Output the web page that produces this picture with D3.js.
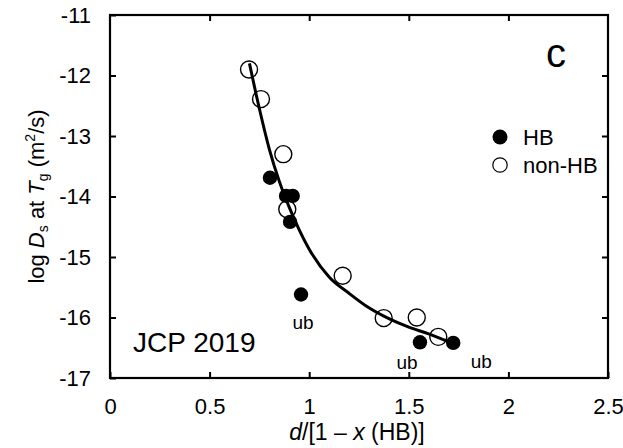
<!DOCTYPE html>
<html>
<head>
<meta charset="utf-8">
<script src="https://cdn.jsdelivr.net/npm/d3@7"></script>
<style>
  html, body { margin: 0; padding: 0; background: #fff; }
  svg { display: block; font-family: "Liberation Sans", Arial, sans-serif; }
  .axis path { display: none; }
  .axis line { stroke: #000; stroke-width: 2; }
  .axis text { font-size: 22px; fill: #000; }
</style>
</head>
<body>
<svg id="chart" width="623" height="448"></svg>
<script>
// data
var hb_x = [0.803, 0.884, 0.917, 0.904, 0.959, 1.556, 1.723];
var hb_y = [-13.69, -13.99, -13.99, -14.42, -15.62, -16.41, -16.42];

var nonhb_x = [0.698, 0.758, 0.870, 0.890, 1.168, 1.374, 1.540, 1.648];
var nonhb_y = [-11.90, -12.39, -13.30, -14.21, -15.31, -16.01, -16.00, -16.32];

// fitted curve, sampled by eye
var fit_x = [0.70, 0.75, 0.80, 0.85, 0.90, 0.95, 1.00, 1.10, 1.20, 1.30, 1.40, 1.50, 1.60, 1.72];
var fit_y = [-11.80, -12.55, -13.22, -13.75, -14.18, -14.55, -14.87, -15.33, -15.60, -15.84, -16.02, -16.16, -16.27, -16.43];

// "ub" notes: which HB point they belong to
var ub_points = [4, 5, 6];

var x_ticks = [0, 0.5, 1, 1.5, 2, 2.5];
var y_ticks = [-17, -16, -15, -14, -13, -12, -11];

var margin = {top: 15, right: 15, bottom: 70, left: 110};
var width = 623 - margin.left - margin.right;
var height = 448 - margin.top - margin.bottom;

var svg = d3.select("#chart");
var g = svg.append("g").attr("transform", "translate(" + margin.left + "," + margin.top + ")");

var x_scale = d3.scaleLinear().domain([0, 2.5]).range([0, width]);
var y_scale = d3.scaleLinear().domain([-17, -11]).range([height, 0]);

// axes, ticks point inward on all four sides
g.append("g").attr("class", "axis")
  .attr("transform", "translate(0," + height + ")")
  .call(d3.axisBottom(x_scale).tickValues(x_ticks).tickFormat(d3.format("")).tickSize(-6).tickPadding(20));
g.append("g").attr("class", "axis")
  .call(d3.axisLeft(y_scale).tickValues(y_ticks).tickFormat(function(d) { return "-" + Math.abs(d); }).tickSize(-6).tickPadding(19));
g.append("g").attr("class", "axis")
  .call(d3.axisTop(x_scale).tickValues(x_ticks.slice(1, -1)).tickSize(-6).tickFormat(""));
g.append("g").attr("class", "axis")
  .attr("transform", "translate(" + width + ",0)")
  .call(d3.axisRight(y_scale).tickValues(y_ticks.slice(1, -1)).tickSize(-6).tickFormat(""));

g.append("rect")
  .attr("x", 0).attr("y", 0).attr("width", width).attr("height", height)
  .attr("fill", "none").attr("stroke", "#000").attr("stroke-width", 2.2);

// fit curve
var line = d3.line()
  .curve(d3.curveMonotoneX)
  .x(function(d) { return x_scale(d[0]); })
  .y(function(d) { return y_scale(d[1]); });

g.append("path")
  .datum(fit_x.map(function(v, i) { return [v, fit_y[i]]; }))
  .attr("d", line)
  .attr("fill", "none")
  .attr("stroke", "#000")
  .attr("stroke-width", 3);

// points
g.selectAll("circle.nonhb")
  .data(nonhb_x.map(function(v, i) { return [v, nonhb_y[i]]; }))
  .enter().append("circle")
  .attr("class", "nonhb")
  .attr("cx", function(d) { return x_scale(d[0]); })
  .attr("cy", function(d) { return y_scale(d[1]); })
  .attr("r", 8.5)
  .attr("fill", "#fff")
  .attr("fill-opacity", 0)
  .attr("stroke", "#000")
  .attr("stroke-width", 1.4);

g.selectAll("circle.hb")
  .data(hb_x.map(function(v, i) { return [v, hb_y[i]]; }))
  .enter().append("circle")
  .attr("class", "hb")
  .attr("cx", function(d) { return x_scale(d[0]); })
  .attr("cy", function(d) { return y_scale(d[1]); })
  .attr("r", 7.2)
  .attr("fill", "#000");

// ub notes sit just under their points
var ub_offsets = [[2, 34], [-13, 27], [28, 25]];
g.selectAll("text.ub")
  .data(ub_points)
  .enter().append("text")
  .attr("class", "ub")
  .attr("x", function(d, i) { return x_scale(hb_x[d]) + ub_offsets[i][0]; })
  .attr("y", function(d, i) { return y_scale(hb_y[d]) + ub_offsets[i][1]; })
  .attr("text-anchor", "middle")
  .attr("font-size", 19)
  .text("ub");

// legend
var legend = g.append("g").attr("transform", "translate(" + (500 - margin.left) + "," + (137 - margin.top) + ")");
legend.append("circle").attr("cx", 0).attr("cy", 0).attr("r", 7.5).attr("fill", "#000");
legend.append("text").attr("x", 23).attr("y", 8).attr("font-size", 22).text("HB");
legend.append("circle").attr("cx", 0).attr("cy", 28).attr("r", 7.2).attr("fill", "none").attr("stroke", "#000").attr("stroke-width", 1.2);
legend.append("text").attr("x", 23).attr("y", 36).attr("font-size", 22).text("non-HB");

// panel letter and source
g.append("text").attr("x", 556 - margin.left).attr("y", 67 - margin.top)
  .attr("text-anchor", "middle").attr("font-size", 40).text("c");
g.append("text").attr("x", 133 - margin.left).attr("y", 352 - margin.top)
  .attr("font-size", 28).text("JCP 2019");

// axis titles
var xt = svg.append("text")
  .attr("x", margin.left + width / 2 - 2)
  .attr("y", 440)
  .attr("text-anchor", "middle")
  .attr("font-size", 23);
xt.append("tspan").attr("font-style", "italic").text("d");
xt.append("tspan").text("/[1 \u2013 ");
xt.append("tspan").attr("font-style", "italic").text("x");
xt.append("tspan").text(" (HB)]");

var yt = svg.append("text")
  .attr("transform", "translate(44," + (margin.top + height / 2) + ") rotate(-90)")
  .attr("text-anchor", "middle")
  .attr("font-size", 22);
yt.append("tspan").text("log ");
yt.append("tspan").attr("font-style", "italic").text("D");
yt.append("tspan").attr("font-size", 14).attr("dy", 4).text("s");
yt.append("tspan").attr("dy", -4).text(" at ");
yt.append("tspan").attr("font-style", "italic").text("T");
yt.append("tspan").attr("font-size", 14).attr("dy", 4).text("g");
yt.append("tspan").attr("dy", -4).text(" (m");
yt.append("tspan").attr("font-size", 14).attr("dy", -9).text("2");
yt.append("tspan").attr("dy", 9).text("/s)");
</script>
</body>
</html>
